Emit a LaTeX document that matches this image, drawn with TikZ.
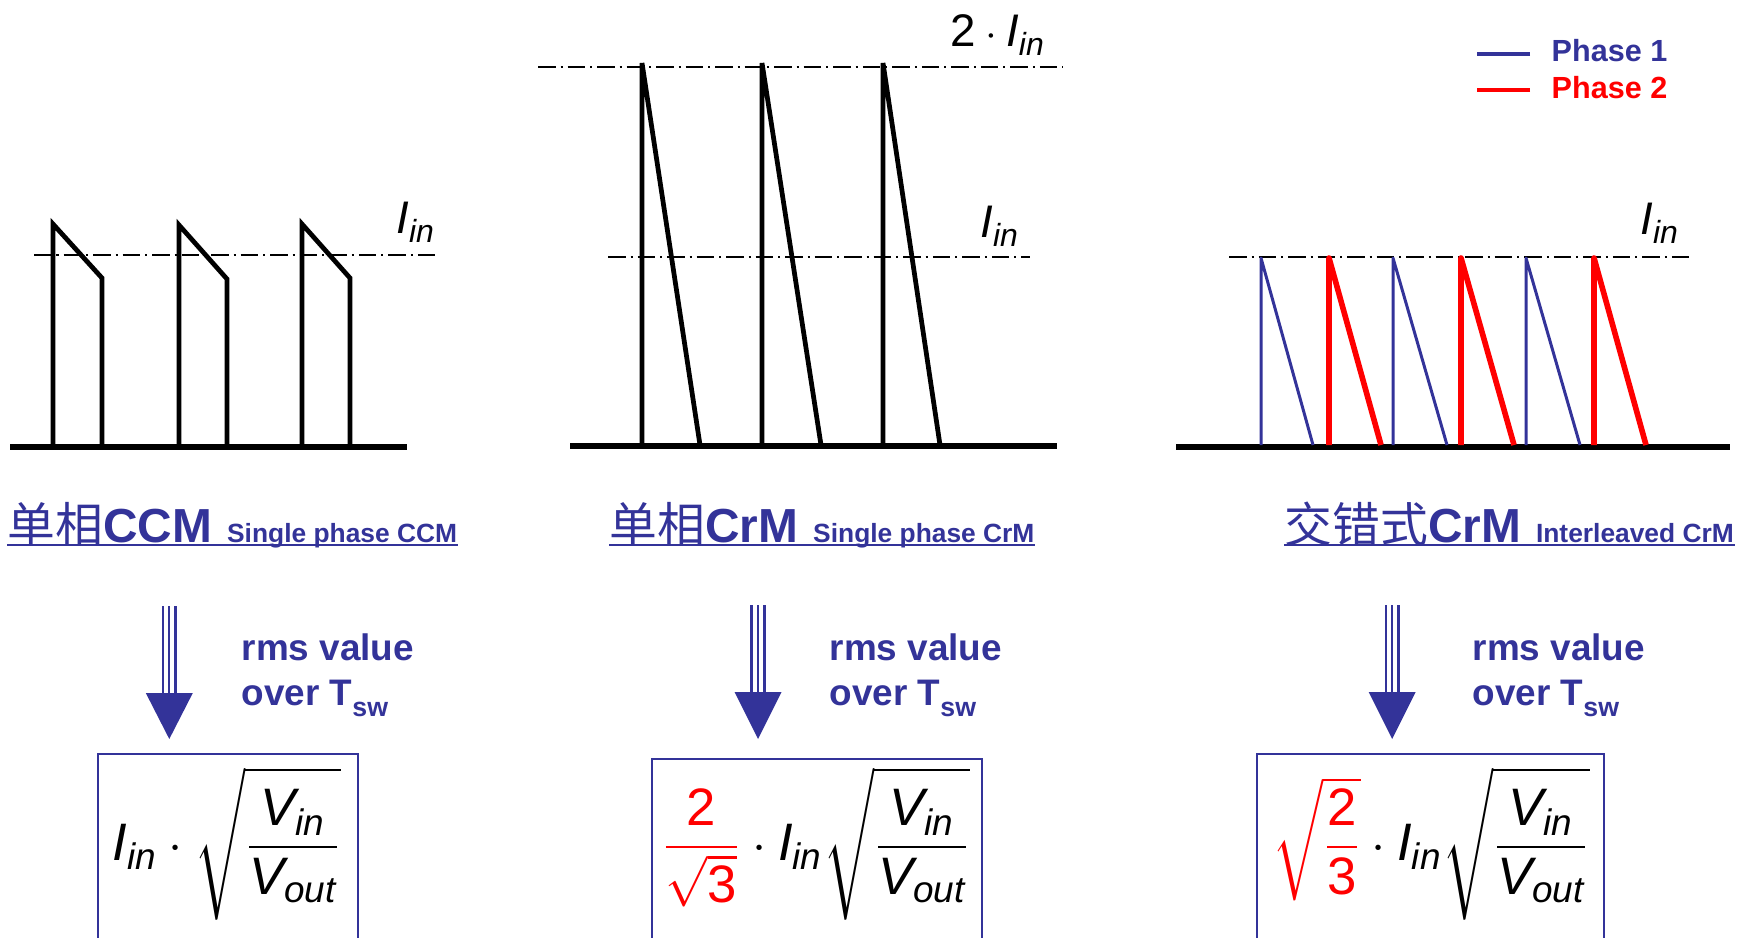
\documentclass[tikz,border=0pt]{standalone}
\usepackage{amsmath}
\usepackage{fontspec}
\setmainfont{Liberation Sans}
\newfontfamily\cjk{Noto Sans CJK SC}
\usetikzlibrary{positioning}

\definecolor{pptblue}{RGB}{51,51,153}
\definecolor{pptred}{RGB}{255,0,0}

\newcommand{\Iin}{\textit{I}_{\textit{in}}}
\newcommand{\Vin}{\textit{V}_{\textit{in}}}
\newcommand{\Vout}{\textit{V}_{\textit{out}}}
\newcommand{\Tsub}{\raisebox{-3.4pt}{\fontsize{7.6}{8}\selectfont sw}}
% invisible rule that makes TeX pick the taller radical
\newcommand{\radstrut}{\rule[-0.95em]{0pt}{2.4em}}

\tikzset{
  wave/.style={line width=1.35pt},
  axisline/.style={line width=1.6pt},
  phaseone/.style={draw=pptblue, line width=0.85pt, line join=round},
  phasetwo/.style={draw=pptred, line width=1.6pt, line join=round},
  levelline/.style={line width=0.45pt, dash pattern=on 5pt off 1.4pt on 0.6pt off 1.4pt},
  levellabel/.style={font=\fontsize{13}{15}\selectfont, inner sep=0pt},
  title/.style={text=pptblue, font=\fontsize{13.6}{16}\selectfont\bfseries, inner sep=0pt, anchor=base west},
  underline/.style={draw=pptblue, line width=0.6pt},
  rmstext/.style={text=pptblue, font=\fontsize{10.5}{12.8}\selectfont\bfseries, align=left, inner sep=0pt, anchor=base west},
  legendtext/.style={font=\fontsize{8.7}{10}\selectfont\bfseries, inner sep=0pt, anchor=base west},
  shaft/.style={draw=pptblue, line width=0.74pt, double=white, double distance=2.85pt},
  midshaft/.style={draw=pptblue, line width=0.65pt},
  resultbox/.style={draw=pptblue, line width=0.55pt},
  formula/.style={font=\fontsize{15}{18}\selectfont, inner sep=0pt, anchor=base},
}

\begin{document}
\begin{tikzpicture}
	% frame with the proportions of the reference
	\useasboundingbox (0,0) rectangle (17.39,-9.37);
	\clip (0,0) rectangle (17.39,-9.37);
	
	% ---------- single phase CCM ----------
	\draw[axisline] (0.10,-4.47) -- (4.07,-4.47);
	\draw[wave] (0.53,-4.45) -- (0.53,-2.24) -- (1.02,-2.78) -- (1.02,-4.45);
	\draw[wave] (1.79,-4.45) -- (1.79,-2.25) -- (2.27,-2.79) -- (2.27,-4.45);
	\draw[wave] (3.02,-4.45) -- (3.02,-2.24) -- (3.50,-2.78) -- (3.50,-4.45);
	\draw[levelline] (0.34,-2.55) -- (4.40,-2.55);
	\node[levellabel] (lvlA) at (4.16,-2.22) {$\Iin$};
	
	% ---------- single phase CrM ----------
	\draw[axisline] (5.70,-4.46) -- (10.57,-4.46);
	\draw[wave] (6.42,-4.45) -- (6.42,-0.63) -- (7.00,-4.45);
	\draw[wave] (7.62,-4.45) -- (7.62,-0.63) -- (8.21,-4.45);
	\draw[wave] (8.83,-4.45) -- (8.83,-0.63) -- (9.40,-4.45);
	\draw[levelline] (5.38,-0.67) -- (10.63,-0.67);
	\draw[levelline] (6.08,-2.57) -- (10.30,-2.57);
	\node[levellabel] (lvlB) at (9.98,-0.35) {$\text{2}\cdot\Iin$};
	\node[levellabel] (lvlC) at (10.00,-2.26) {$\Iin$};
	
	% ---------- interleaved CrM ----------
	\draw[axisline] (11.76,-4.47) -- (17.30,-4.47);
	\draw[levelline] (12.29,-2.57) -- (16.91,-2.57);
	\draw[phaseone] (12.61,-4.45) -- (12.61,-2.58) -- (13.13,-4.45);
	\draw[phasetwo] (13.29,-4.45) -- (13.29,-2.58) -- (13.81,-4.45);
	\draw[phaseone] (13.93,-4.45) -- (13.93,-2.58) -- (14.47,-4.45);
	\draw[phasetwo] (14.61,-4.45) -- (14.61,-2.58) -- (15.14,-4.45);
	\draw[phaseone] (15.26,-4.45) -- (15.26,-2.58) -- (15.80,-4.45);
	\draw[phasetwo] (15.94,-4.45) -- (15.94,-2.58) -- (16.46,-4.45);
	\node[levellabel] (lvlD) at (16.60,-2.23) {$\Iin$};
	
	% legend
	\node[legendtext, text=pptblue] (leg1) at (15.51,-0.61) {Phase 1};
	\node[legendtext, text=pptred, below=0.37cm of leg1.base west, anchor=base west] (leg2) {Phase 2};
	\draw[pptblue, line width=1.4pt] (leg1.base west) ++(-0.21,0.07) -- ++(-0.53,0);
	\draw[pptred, line width=1.4pt] (leg2.base west) ++(-0.21,0.08) -- ++(-0.53,0);
	
	% titles
	\node[title] (tA) at (0.07,-5.42) {{\cjk\mdseries 单相}CCM\hspace{0.15cm}{\fontsize{7.5}{9}\selectfont Single phase CCM}};
	\node[title] (tB) at (6.09,-5.42) {{\cjk\mdseries 单相}CrM\hspace{0.15cm}{\fontsize{7.5}{9}\selectfont Single phase CrM}};
	\node[title] (tC) at (12.84,-5.42) {{\cjk\mdseries 交错式}CrM\hspace{0.15cm}{\fontsize{7.5}{9}\selectfont Interleaved CrM}};
	\draw[underline] ([yshift=-0.03cm]tA.base west) -- ([yshift=-0.03cm]tA.base east);
	\draw[underline] ([yshift=-0.03cm]tB.base west) -- ([yshift=-0.03cm]tB.base east);
	\draw[underline] ([yshift=-0.03cm]tC.base west) -- ([yshift=-0.03cm]tC.base east);
	
	% arrows down to the rms values
	\coordinate (aAtop) at (1.693,-6.06);
	\coordinate (aAbase) at (1.693,-6.93);
	\coordinate (aAtip) at (1.693,-7.39);
	\draw[shaft] (aAtop) -- (aAbase);
	\draw[midshaft] (aAtop) -- (aAbase);
	\fill[pptblue] ([xshift=-0.235cm]aAbase) -- ([xshift=0.235cm]aAbase) -- (aAtip) -- cycle;
	
	\coordinate (aBtop) at (7.58,-6.05);
	\coordinate (aBbase) at (7.58,-6.92);
	\coordinate (aBtip) at (7.58,-7.39);
	\draw[shaft] (aBtop) -- (aBbase);
	\draw[midshaft] (aBtop) -- (aBbase);
	\fill[pptblue] ([xshift=-0.235cm]aBbase) -- ([xshift=0.235cm]aBbase) -- (aBtip) -- cycle;
	
	\coordinate (aCtop) at (13.922,-6.05);
	\coordinate (aCbase) at (13.922,-6.92);
	\coordinate (aCtip) at (13.922,-7.39);
	\draw[shaft] (aCtop) -- (aCbase);
	\draw[midshaft] (aCtop) -- (aCbase);
	\fill[pptblue] ([xshift=-0.235cm]aCbase) -- ([xshift=0.235cm]aCbase) -- (aCtip) -- cycle;
	
	% base anchor sits on the second line
	\node[rmstext] (rA) at (2.41,-7.05) {rms value\\over T\Tsub};
	\node[rmstext] (rB) at (8.29,-7.05) {rms value\\over T\Tsub};
	\node[rmstext] (rC) at (14.72,-7.05) {rms value\\over T\Tsub};
	
	% result boxes, cut by the lower edge
	\draw[resultbox] (0.98,-9.60) -- (0.98,-7.54) -- (3.58,-7.54) -- (3.58,-9.60);
	\draw[resultbox] (6.52,-9.60) -- (6.52,-7.59) -- (9.82,-7.59) -- (9.82,-9.60);
	\draw[resultbox] (12.57,-9.60) -- (12.57,-7.54) -- (16.04,-7.54) -- (16.04,-9.60);
	
	\node[formula] (fA) at (2.27,-8.60) {$\Iin\cdot\sqrt{\radstrut\dfrac{\Vin}{\Vout}}$};
	\node[formula] (fB) at (8.16,-8.60) {${\color{pptred}\dfrac{\text{2}}{\sqrt{\text{3}}}}\cdot\Iin\sqrt{\radstrut\dfrac{\Vin}{\Vout}}$};
	\node[formula] (fC) at (14.31,-8.60) {${\color{pptred}\sqrt{\dfrac{\text{2}}{\text{3}}}}\cdot\Iin\sqrt{\radstrut\dfrac{\Vin}{\Vout}}$};
\end{tikzpicture}
\end{document}
